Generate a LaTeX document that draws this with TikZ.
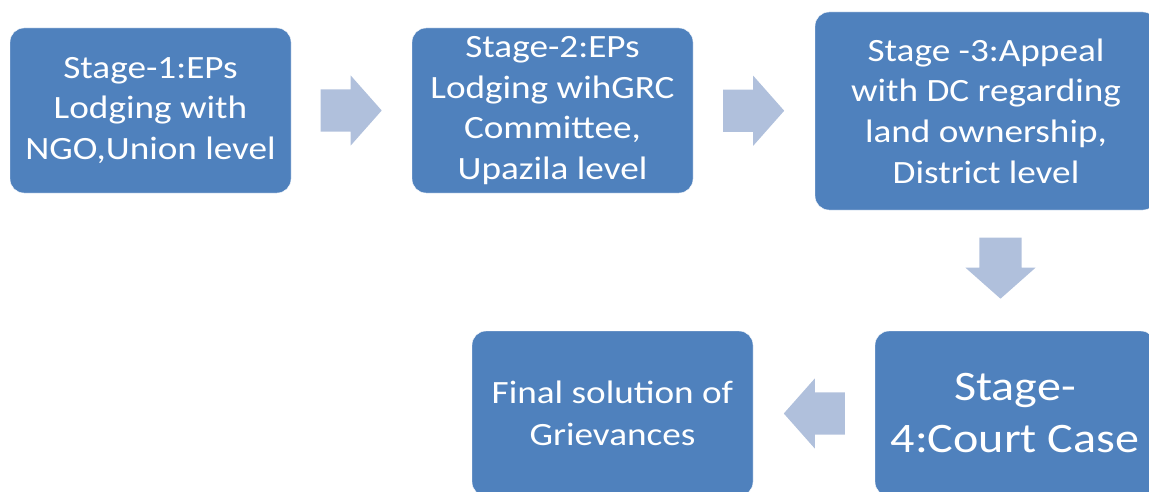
\documentclass[tikz,border=0pt]{standalone}
\usepackage{fontspec}
\setmainfont{Carlito}[FakeStretch=1.145]
\usetikzlibrary{shapes.arrows}
\usetikzlibrary{calc}

\definecolor{boxblue}{RGB}{79,129,189}
\definecolor{arrowblue}{RGB}{176,192,220}

\begin{document}
\begin{tikzpicture}[x=1pt,y=-1pt,
    stagebox/.style={rectangle,rounded corners=14pt,fill=boxblue,draw=white,
      text=white,align=center,inner sep=0pt,font=\fontsize{32.5}{40.7}\selectfont},
    blockarrow/.style={single arrow,fill=arrowblue,draw=none,inner xsep=0pt,
      inner ysep=21pt,minimum height=61pt,single arrow head extend=14pt,
      single arrow tip angle=97,anchor=tail}]

    \useasboundingbox (0,0) rectangle (1149,492);

    \node[stagebox,minimum width=281pt,minimum height=165pt] (s1) at (150.5,110.5)
      {Stage-1:EPs\\Lodging with\\NGO,Union level};
    \node[stagebox,minimum width=281pt,minimum height=165pt] (s2) at (552.5,110.5)
      {Stage-2:EPs\\Lodging wihGRC\\Committee,\\Upazila level};
    \node[stagebox,minimum width=342pt,minimum height=198pt] (s3) at (986,111)
      {Stage -3:Appeal\\with DC regarding\\land ownership,\\District level};
    \node[stagebox,minimum width=280pt,minimum height=165pt,
      font=\fontsize{42}{52}\selectfont] (s4) at (1015,413.5)
      {Stage-\\4:Court Case};
    \node[stagebox,minimum width=281pt,minimum height=165pt,
      font=\fontsize{32.5}{42}\selectfont] (fin) at (612.5,413.5)
      {Final solution of\\Grievances};

    \node[blockarrow] (a1) at ($(s1.east)!0.5!(s2.west)+(-31,0)$) {};
    \node[blockarrow] (a2) at ($(s2.east)!0.5!(s3.west)+(-31,0)$) {};
    \node[blockarrow,rotate=-90] (a3) at ($(s3.south)!0.5!(s4.north)+(0,-33)$) {};
    \node[blockarrow,rotate=180] (a4) at ($(s4.west)!0.5!(fin.east)+(31,0)$) {};
  \end{tikzpicture}
\end{document}
